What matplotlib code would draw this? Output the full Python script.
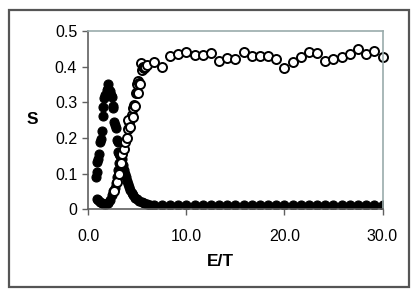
import matplotlib.pyplot as plt
from matplotlib.patches import Rectangle

# filled series A (sharp peak near E/T = 2)
peak_x = [0.78, 0.85, 0.92, 1.0, 1.12, 1.2, 1.26, 1.37, 1.45, 1.53, 1.63, 1.75,
          1.87, 1.97, 2.05, 2.12, 2.2, 2.3, 2.38, 2.48, 2.55, 2.62, 2.72, 2.8,
          2.9, 3.0, 3.06, 3.15]
peak_s = [0.090, 0.105, 0.133, 0.140, 0.155, 0.190, 0.196, 0.219, 0.262, 0.287,
          0.311, 0.320, 0.334, 0.352, 0.340, 0.330, 0.332, 0.320, 0.315, 0.290,
          0.283, 0.245, 0.235, 0.227, 0.194, 0.190, 0.161, 0.155]

# filled series B (dip, small bump, long tail)
tail_x = [0.85, 1.0, 1.2, 1.4, 1.6, 1.8, 2.0, 2.2, 2.4, 2.55, 2.7, 2.85, 2.95,
          3.05, 3.15, 3.2, 3.3, 3.4, 3.5, 3.6, 3.7, 3.8, 3.9, 4.0, 4.15, 4.3,
          4.45, 4.6, 4.8, 5.0, 5.2, 5.45, 5.7, 6.0, 6.3,
          6.67, 7.5, 8.33, 9.17, 10.0, 10.83, 11.67, 12.5, 13.33, 14.17, 15.0,
          15.83, 16.67, 17.5, 18.33, 19.17, 20.0, 20.83, 21.67, 22.5, 23.33,
          24.17, 25.0, 25.83, 26.67, 27.5, 28.33, 29.17, 30.0]
tail_s = [0.028, 0.025, 0.020, 0.018, 0.016, 0.016, 0.018, 0.026, 0.040, 0.050,
          0.060, 0.075, 0.090, 0.110, 0.130, 0.150, 0.160, 0.140, 0.125, 0.110,
          0.100, 0.090, 0.080, 0.072, 0.062, 0.055, 0.047, 0.040, 0.033, 0.028,
          0.024, 0.020, 0.017, 0.015, 0.013,
          0.012, 0.012, 0.012, 0.011, 0.011, 0.011, 0.011, 0.011, 0.011, 0.011,
          0.011, 0.011, 0.011, 0.011, 0.011, 0.011, 0.011, 0.011, 0.011, 0.011,
          0.011, 0.011, 0.011, 0.011, 0.011, 0.011, 0.011, 0.011, 0.011]

# open series (rise to plateau)
open_x = [2.6, 2.9, 3.1, 3.3, 3.45, 3.6, 3.75, 3.9, 4.05, 4.2, 4.35, 4.45, 4.6,
          4.7, 4.85, 4.95, 5.0, 5.1, 5.2, 5.3, 5.35, 5.5, 5.6, 5.7, 5.8, 6.0,
          4.0, 4.3, 4.55, 4.8, 5.05,
          6.67, 7.5, 8.33, 9.17, 10.0, 10.83, 11.67, 12.5, 13.33, 14.17, 15.0,
          15.83, 16.67, 17.5, 18.33, 19.17, 20.0, 20.83, 21.67, 22.5, 23.33,
          24.17, 25.0, 25.83, 26.67, 27.5, 28.33, 29.17, 30.0]
open_s = [0.050, 0.077, 0.100, 0.130, 0.155, 0.170, 0.190, 0.200, 0.225, 0.245,
          0.255, 0.265, 0.285, 0.292, 0.325, 0.330, 0.350, 0.360, 0.355, 0.350,
          0.410, 0.390, 0.400, 0.395, 0.400, 0.405,
          0.250, 0.230, 0.260, 0.290, 0.325,
          0.413, 0.398, 0.429, 0.435, 0.440, 0.433, 0.433, 0.439, 0.415, 0.423,
          0.420, 0.440, 0.429, 0.430, 0.430, 0.420, 0.397, 0.413, 0.427, 0.441,
          0.439, 0.415, 0.420, 0.427, 0.435, 0.448, 0.435, 0.444, 0.426]

x_ticks = [0, 10, 20, 30]
x_labels = ["0.0", "10.0", "20.0", "30.0"]
y_ticks = [0, 0.1, 0.2, 0.3, 0.4, 0.5]
y_labels = ["0", "0.1", "0.2", "0.3", "0.4", "0.5"]

plt.rcParams['font.family'] = ['Liberation Sans', 'DejaVu Sans']

fig = plt.figure(figsize=(4.15, 2.94), dpi=100)
ax = fig.add_axes([0.2128, 0.288, 0.7089, 0.607])

ax.plot(peak_x, peak_s, 'o', color='black', markersize=6.5, markeredgewidth=0.8)
ax.plot(tail_x, tail_s, 'o', color='black', markersize=6.5, markeredgewidth=0.8)
ax.plot(open_x, open_s, 'o', markerfacecolor='white', markeredgecolor='black',
        markersize=6.5, markeredgewidth=1.4, clip_on=False)

ax.set_xlim(0, 30)
ax.set_ylim(0, 0.5)
ax.set_xticks(x_ticks)
ax.set_xticklabels(x_labels)
ax.set_yticks(y_ticks)
ax.set_yticklabels(y_labels)
ax.tick_params(labelsize=11.5, length=4, width=1, color='#606060', pad=4)
ax.tick_params(axis='x', pad=10)

for side in ['left', 'bottom']:
    ax.spines[side].set_color('#606060')
    ax.spines[side].set_linewidth(1.2)
for side in ['top', 'right']:
    ax.spines[side].set_color('#9aabab')
    ax.spines[side].set_linewidth(1.2)

fig.text(32 / 415, 1 - 120 / 294, "S", fontsize=12.5, fontweight='bold',
         ha='center', va='center')
fig.text(220 / 415, 1 - 262 / 294, "E/T", fontsize=12.5, fontweight='bold',
         ha='center', va='center')

# outer frame
fig.patches.append(Rectangle((9 / 415, 1 - 287 / 294), 400 / 415, 277 / 294,
                             transform=fig.transFigure, fill=False,
                             edgecolor='#555555', linewidth=1.6))

fig.savefig("out.png", dpi=100)
